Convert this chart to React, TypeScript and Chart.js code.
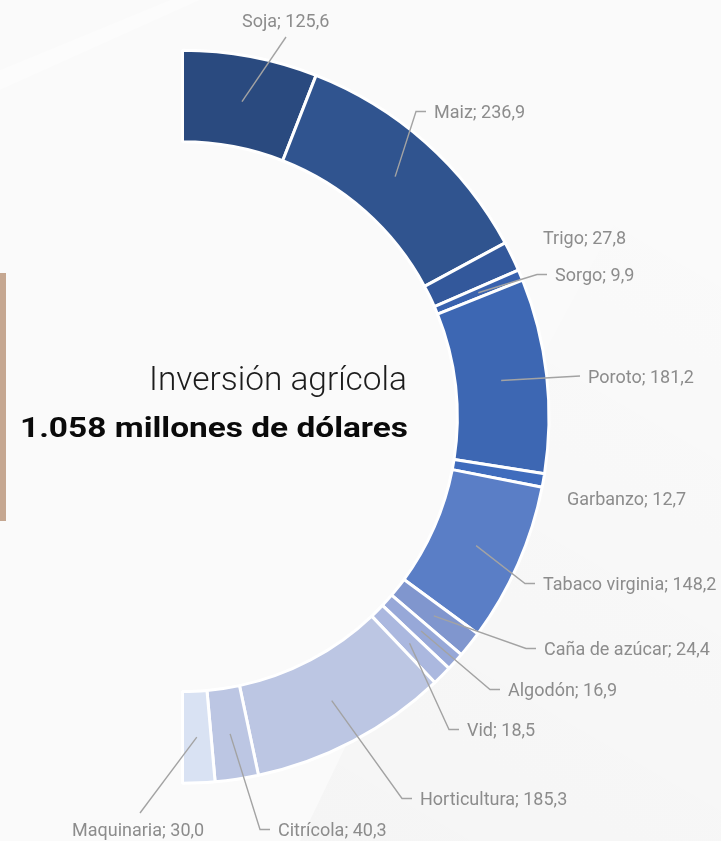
import React, { useEffect, useRef } from "react";
import { Chart, registerables } from "chart.js";

Chart.register(...registerables);

const categories = [
  "Soja", "Maiz", "Trigo", "Sorgo", "Poroto", "Garbanzo", "Tabaco virginia",
  "Caña de azúcar", "Algodón", "Vid", "Horticultura", "Citrícola", "Maquinaria",
];
const values = [125.6, 236.9, 27.8, 9.9, 181.2, 12.7, 148.2, 24.4, 16.9, 18.5, 185.3, 40.3, 30.0];
const colors = [
  "#2a4a7f", "#30548f", "#33589b", "#3962ae", "#3d67b3", "#3f6cbd", "#5a7ec6",
  "#8096ce", "#97a8d8", "#abb8df", "#bcc6e3", "#bcc6e3", "#d9e2f3",
];
const titleLine = "Inversión agrícola";
const totalLine = "1.058 millones de dólares";

// label layout: text left x, baseline y, leader type, optional start point
type Lay = { x: number; y: number; leader: "elbow" | "line" | "none"; sx?: number; sy?: number };
const labelLayout: Lay[] = [
  { x: 242, y: 27, leader: "line", sx: 286, sy: 37 },
  { x: 434, y: 118, leader: "elbow" },
  { x: 543, y: 244, leader: "none" },
  { x: 555, y: 281, leader: "elbow" },
  { x: 588, y: 383, leader: "line", sx: 580, sy: 376 },
  { x: 567, y: 505, leader: "none" },
  { x: 543, y: 590, leader: "elbow" },
  { x: 544, y: 655, leader: "elbow" },
  { x: 508, y: 696, leader: "elbow" },
  { x: 467, y: 736, leader: "elbow" },
  { x: 420, y: 805, leader: "elbow" },
  { x: 278, y: 836, leader: "elbow" },
  { x: 72, y: 836, leader: "line", sx: 140, sy: 813 },
];

const fmt = (v: number) => v.toFixed(1).replace(".", ",");

const bgPlugin = {
  id: "bg",
  beforeDraw(chart: any) {
    const ctx = chart.ctx;
    const w = chart.width, h = chart.height;
    ctx.save();
    ctx.fillStyle = "#fafafa";
    ctx.fillRect(0, 0, w, h);
    // faint diagonal shading
    const g = ctx.createLinearGradient(w, 200, 350, h);
    g.addColorStop(0, "rgba(0,0,0,0)");
    g.addColorStop(1, "rgba(0,0,0,0.018)");
    ctx.fillStyle = g;
    ctx.beginPath();
    ctx.moveTo(w, 30);
    ctx.quadraticCurveTo(500, 420, 300, h);
    ctx.lineTo(w, h);
    ctx.closePath();
    ctx.fill();
    ctx.fillStyle = "rgba(255,255,255,0.35)";
    ctx.beginPath();
    ctx.moveTo(0, 70);
    ctx.lineTo(170, 0);
    ctx.lineTo(200, 0);
    ctx.lineTo(0, 90);
    ctx.closePath();
    ctx.fill();
    // tan bar
    ctx.fillStyle = "#c5a791";
    ctx.fillRect(0, 273, 6, 248);
    ctx.restore();
  },
};

const labelPlugin = {
  id: "labels",
  afterDatasetsDraw(chart: any) {
    const ctx = chart.ctx;
    const meta = chart.getDatasetMeta(0);
    ctx.save();
    ctx.strokeStyle = "#a3a3a3";
    ctx.lineWidth = 1.4;
    ctx.font = "400 18px Roboto";
    ctx.fillStyle = "#8c8c8c";
    ctx.textBaseline = "alphabetic";
    ctx.textAlign = "left";
    categories.forEach((name, i) => {
      const arc = meta.data[i];
      const p = arc.tooltipPosition(false);
      const lay = labelLayout[i];
      if (lay.leader === "elbow") {
        const sy = lay.y - 6.5;
        ctx.beginPath();
        ctx.moveTo(lay.x - 8, sy);
        ctx.lineTo(lay.x - 18, sy);
        ctx.lineTo(p.x, p.y);
        ctx.stroke();
      } else if (lay.leader === "line") {
        ctx.beginPath();
        ctx.moveTo(lay.sx!, lay.sy!);
        ctx.lineTo(p.x, p.y);
        ctx.stroke();
      }
      ctx.fillText(`${name}; ${fmt(values[i])}`, lay.x, lay.y);
    });

    // center titles
    const drawScaled = (text: string, font: string, color: string, right: number, base: number, width: number) => {
      ctx.font = font;
      ctx.fillStyle = color;
      const m = ctx.measureText(text).width;
      const s = width / m;
      ctx.save();
      ctx.translate(right, base);
      ctx.scale(s, 1);
      ctx.textAlign = "right";
      ctx.fillText(text, 0, 0);
      ctx.restore();
    };
    drawScaled(titleLine, "300 33px Roboto", "#1c1c1c", 407, 390, 258);
    drawScaled(totalLine, "700 28px Roboto", "#0a0a0a", 408, 437, 388);
    ctx.restore();
  },
};

export default function App() {
  const ref = useRef<HTMLCanvasElement>(null);
  useEffect(() => {
    const c = ref.current!;
    const chart = new Chart(c, {
      type: "doughnut",
      data: {
        labels: categories,
        datasets: [
          {
            data: values,
            backgroundColor: colors,
            borderColor: "#ffffff",
            borderWidth: 3,
            hoverOffset: 0,
          },
        ],
      },
      options: {
        responsive: false,
        animation: false,
        devicePixelRatio: 1,
        events: [],
        rotation: 0,
        circumference: 180,
        radius: 366.5,
        cutout: "75%",
        layout: { padding: { left: 10.5, right: 0, top: 0, bottom: 7.6 } },
        plugins: {
          legend: { display: false },
          tooltip: { enabled: false },
        },
      } as any,
      plugins: [bgPlugin, labelPlugin],
    });
    return () => chart.destroy();
  }, []);
  return (
    <div style={{ position: "fixed", left: 0, top: 0, width: 721, height: 841, background: "#fafafa" }}>
      <canvas ref={ref} width={721} height={841} style={{ display: "block" }} />
    </div>
  );
}
